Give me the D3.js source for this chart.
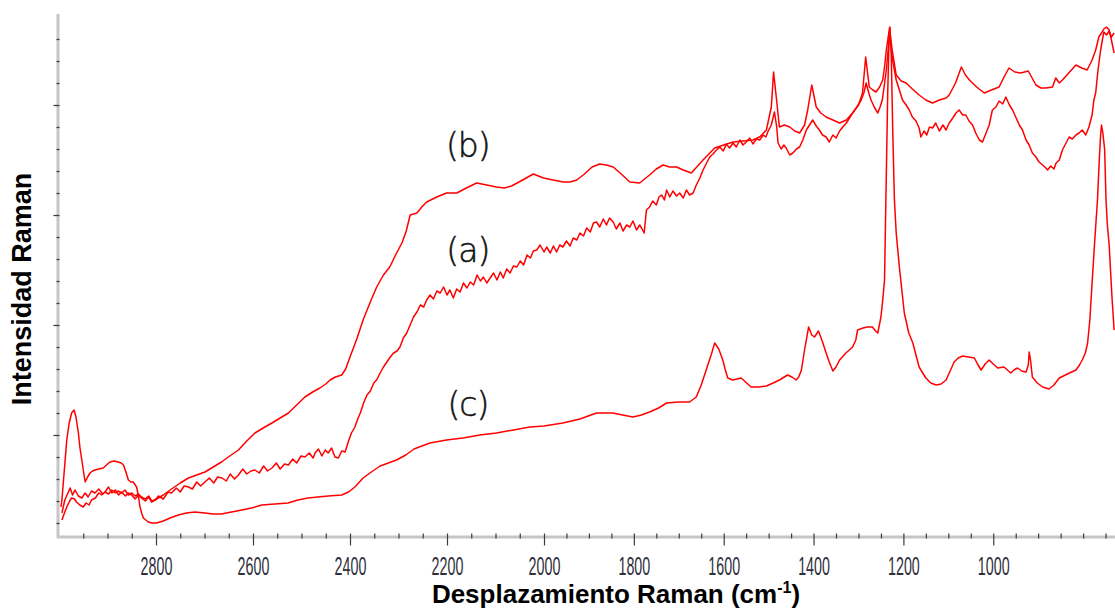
<!DOCTYPE html>
<html>
<head>
<meta charset="utf-8">
<script src="https://cdn.jsdelivr.net/npm/d3@7"></script>
<style>
  html, body { margin: 0; padding: 0; background: #fff; }
  svg { display: block; }
</style>
</head>
<body>
<svg id="chart" width="1115" height="611"></svg>
<script>
// Raman spectra: [Raman shift (cm-1), intensity (a.u.)]
const seriesA = [
  [2994,32],[2988,45],[2977,57],[2972,50],[2967,55],[2960,49],[2953,47],[2946,52],[2940,48],[2933,54],
  [2926,52],[2918,56],[2910,51],[2905,53],[2898,58],[2891,52],[2884,55],[2877,50],[2871,53],[2863,49],
  [2857,52],[2850,50],[2843,46],[2836,50],[2830,47],[2822,44],[2815,48],[2809,43],[2802,45],
  [2795,49],[2785,46],[2775,53],[2768,52],[2758,57],[2750,53],[2742,59],[2733,58],[2725,56],[2716,63],
  [2708,59],[2699,63],[2690,67],[2681,62],[2673,68],[2664,67],[2655,64],[2647,71],[2638,66],[2630,70],
  [2621,76],[2613,71],[2604,74],[2596,75],[2587,72],[2578,79],[2570,74],[2561,77],[2552,82],[2544,76],
  [2535,81],[2527,80],[2518,86],[2510,82],[2501,89],[2493,88],[2484,92],[2476,87],[2472,92],[2465,96],
  [2458,89],[2451,95],[2445,92],[2438,97],[2431,88],[2424,87],[2417,94],[2410,93],[2403,104],[2397,112],
  [2390,118],[2384,126],[2378,133],[2372,142],[2365,150],[2358,154],[2351,162],[2345,165],[2338,172],
  [2331,178],[2324,183],[2317,188],[2310,192],[2303,194],[2297,198],[2290,207],[2283,212],[2276,220],
  [2269,228],[2262,233],[2255,240],[2248,238],[2242,245],[2235,250],[2228,246],[2221,254],[2214,252],
  [2207,258],[2200,250],[2194,255],[2187,247],[2180,256],[2173,253],[2166,262],[2159,257],[2152,263],
  [2145,260],[2138,270],[2131,264],[2125,268],[2118,262],[2111,267],[2104,272],[2097,265],[2090,273],
  [2084,267],[2077,276],[2070,272],[2063,279],[2056,278],[2049,284],[2042,280],[2035,290],[2028,287],
  [2022,294],[2015,295],[2008,300],[2000,293],
  [1994,298],[1986,292],[1979,299],[1972,293],[1965,300],[1958,298],[1950,304],[1942,299],[1935,307],
  [1927,305],[1920,312],[1912,309],[1905,317],[1897,313],[1890,322],[1883,323],[1876,318],[1868,326],
  [1861,320],[1854,327],[1846,323],[1839,316],[1831,322],[1824,314],[1816,320],[1809,318],[1802,324],
  [1794,315],[1787,320],[1783,317],[1777,312],[1772,335],[1765,338],[1758,344],[1750,340],[1744,348],
  [1738,350],[1732,345],[1727,355],[1720,348],[1713,354],[1705,349],[1698,352],[1690,347],[1683,355],
  [1676,350],[1668,352],[1661,360],[1653,367],[1646,375],[1638,382],[1631,388],[1624,391],[1616,395],
  [1609,398],[1601,394],[1594,401],[1587,397],[1579,402],[1572,398],[1564,405],[1557,400],[1550,403],
  [1542,407],[1535,401],[1527,406],[1520,405],[1512,410],[1506,408],[1502,413],[1494,420],[1487,433],
  [1482,418],[1479,402],[1472,396],[1466,400],[1461,397],[1453,390],[1446,392],[1438,396],[1431,398],
  [1424,405],[1416,415],[1409,420],[1402,425],[1394,419],[1387,415],[1380,410],[1372,408],[1365,403],
  [1357,410],[1350,407],[1342,414],[1335,418],[1327,422],[1320,427],[1313,432],[1305,437],[1298,442],
  [1294,445],[1288,452],[1283,462],[1277,452],[1272,445],[1265,438],[1257,432],[1252,438],[1247,445],
  [1243,458],[1238,475],[1234,495],[1231,512],[1228,500],[1224,485],[1220,475],[1216,465],[1209,455],
  [1202,445],[1194,440],[1187,435],[1180,428],[1172,424],[1165,417],[1161,408],[1154,414],[1148,410],
  [1142,418],[1135,417],[1128,422],[1120,414],[1112,420],[1105,415],[1098,422],[1090,427],[1083,432],
  [1076,435],[1068,430],[1061,430],[1054,424],[1046,420],[1039,412],[1031,405],[1024,403],[1016,412],
  [1009,420],[1002,435],[994,438],[987,444],[979,441],[972,448],[964,440],[957,435],[950,428],[942,420],
  [935,415],[927,405],[920,400],[913,392],[905,388],[898,383],[890,380],[883,377],[879,375],[872,379],
  [865,376],[860,382],[853,385],[846,395],[838,402],[831,408],[824,406],[816,410],[809,412],[802,415],
  [794,410],[787,418],[780,430],[776,445],[772,452],[768,470],[764,485],[761,495],[757,505],[754,513],
  [748,510],[742,514],[737,508],[731,512]
];

const seriesB = [
  [2994,25],[2988,33],[2984,38],[2978,44],[2974,47],[2968,46],[2964,43],[2957,40],[2950,38],[2944,42],
  [2938,40],[2933,45],[2925,47],[2918,52],[2912,50],[2905,53],[2898,51],[2891,55],[2884,52],[2878,54],
  [2871,52],[2864,55],[2857,50],[2850,52],[2843,49],[2836,51],[2830,48],[2822,46],[2815,49],[2809,44],
  [2802,45],
  [2785,50],[2768,56],[2750,62],[2733,67],[2716,70],[2699,73],[2682,78],[2665,83],[2648,89],[2630,95],
  [2613,104],[2596,112],[2579,117],[2561,122],[2544,127],[2527,132],[2510,140],[2493,148],[2477,153],
  [2462,157],[2450,161],[2441,165],[2430,168],[2417,170],[2409,176],[2400,188],[2386,206],[2373,225],
  [2359,242],[2345,258],[2331,270],[2318,278],[2306,290],[2293,302],[2284,314],[2276,330],[2262,332],
  [2252,338],[2242,343],[2221,348],[2201,352],[2180,352],[2160,357],[2139,362],[2118,360],[2098,358],
  [2082,357],[2067,359],[2044,365],[2022,371],[2001,367],
  [1980,365],[1957,363],[1942,363],[1927,365],[1910,371],[1893,378],[1876,381],[1861,380],[1846,378],
  [1828,371],[1809,363],[1787,362],[1765,370],[1750,376],[1735,380],[1720,378],[1705,378],[1690,375],
  [1672,372],[1660,378],[1646,385],[1633,391],[1620,397],[1600,400],[1579,403],[1557,404],[1535,405],
  [1520,408],[1505,415],[1494,438],[1489,473],[1483,448],[1476,418],[1465,420],[1453,418],[1442,414],
  [1431,412],[1420,420],[1413,435],[1404,460],[1394,438],[1384,432],[1372,428],[1357,425],[1342,422],
  [1327,425],[1313,432],[1300,440],[1291,452],[1284,488],[1276,458],[1268,455],[1261,453],[1253,458],
  [1246,465],[1242,478],[1238,495],[1231,517],[1225,495],[1216,470],[1205,464],[1194,462],[1180,456],
  [1165,450],[1150,445],[1135,442],[1120,445],[1105,447],[1098,450],[1084,462],[1071,478],[1062,470],
  [1053,465],[1037,458],[1020,452],[1004,455],[987,458],[976,468],[965,477],[952,473],[939,472],
  [922,474],[905,460],[894,457],[883,457],[868,458],[861,467],[853,462],[846,465],[830,473],[816,480],
  [803,477],[791,475],[780,485],[772,495],[765,508],[759,512],[754,516],[748,518],[742,515],[737,505],
  [731,492]
];

const seriesC = [
  [2996,38],[2994,45],[2989,75],[2984,105],[2979,122],[2974,132],[2969,135],[2965,128],[2960,112],
  [2957,98],[2953,85],[2949,72],[2946,63],[2941,68],[2936,72],[2931,74],[2926,75],[2918,76],[2909,77],
  [2902,80],[2895,83],[2886,84],[2878,83],[2872,82],[2867,80],[2862,73],[2857,65],[2852,63],[2847,63],
  [2840,58],[2836,48],[2833,38],[2829,31],[2826,27],[2816,23],[2808,22],[2799,22],[2785,24],[2771,27],
  [2754,30],[2737,32],[2720,33],[2699,32],[2682,31],[2665,31],[2644,33],[2623,35],[2603,37],[2582,40],
  [2555,41],[2528,42],[2507,45],[2487,47],[2466,48],[2445,49],[2417,50],[2403,53],[2390,58],[2373,67],
  [2356,73],[2338,79],[2321,82],[2304,85],[2285,90],[2268,96],[2252,99],[2235,102],[2201,105],[2167,107],
  [2132,110],[2098,112],[2063,115],[2029,118],[2000,119],[1958,122],[1920,126],[1883,132],[1847,132],
  [1825,130],[1802,128],[1783,130],[1765,133],[1745,137],[1727,142],[1700,143],[1676,143],[1661,148],
  [1650,160],[1639,175],[1628,190],[1620,202],[1611,196],[1602,185],[1597,176],[1591,167],[1580,165],
  [1561,167],[1549,162],[1539,158],[1522,158],[1505,159],[1490,162],[1476,165],[1458,170],[1448,168],
  [1439,165],[1433,168],[1427,175],[1420,195],[1411,218],[1404,210],[1398,208],[1389,214],[1380,203],
  [1372,192],[1365,183],[1357,174],[1350,178],[1342,185],[1328,192],[1313,198],[1306,205],[1302,215],
  [1290,217],[1280,218],[1269,218],[1262,214],[1257,212],[1250,228],[1246,245],[1242,265],[1239,345],
  [1235,450],[1232,505],[1230,518],[1227,490],[1224,420],[1220,345],[1216,312],[1209,278],[1198,232],
  [1188,212],[1179,202],[1172,190],[1165,178],[1157,172],[1150,167],[1139,162],[1127,160],[1116,161],
  [1105,165],[1096,174],[1087,183],[1078,187],[1068,189],[1055,188],[1042,187],[1035,181],[1027,175],
  [1018,181],[1009,185],[1000,181],[990,177],[976,178],[961,172],[954,175],[946,177],[937,174],[927,173],
  [922,180],[920,193],[917,185],[913,168],[902,162],[890,158],[876,156],[865,160],[853,167],[835,171],
  [816,175],[808,180],[802,185],[795,192],[790,202],[785,225],[780,262],[774,305],[768,345],[764,385],
  [761,410],[759,420],[756,412],[752,395],[749,345],[746,320],[742,300],[736,250],[731,215]
];

const curveNames = ["(a)", "(b)", "(c)"];
const xTickLabels = [2800, 2600, 2400, 2200, 2000, 1800, 1600, 1400, 1200, 1000];
const xTitle = "Desplazamiento Raman (cm";
const yTitle = "Intensidad Raman";

const svg = d3.select("#chart");

// Raman shift runs right-to-left; the axis is drawn in two linear segments
const x = d3.scaleLinear().domain([3000, 2000, 729]).range([59, 544, 1115]);
const y = d3.scaleLinear().domain([8, 531]).range([537, 14]);

// axis bars
svg.append("line").attr("x1", 58).attr("x2", 58).attr("y1", 14).attr("y2", 538)
  .attr("stroke", "#c6c6c6").attr("stroke-width", 3);
svg.append("line").attr("x1", 57).attr("x2", 1115).attr("y1", 537).attr("y2", 537)
  .attr("stroke", "#c6c6c6").attr("stroke-width", 3);

// x ticks: minor every 50, major with labels every 200
const xMinor = d3.range(2950, 749, -50).filter(v => !xTickLabels.includes(v));
const gxMinor = svg.append("g").attr("transform", "translate(0,533.5)")
  .call(d3.axisBottom(x).tickValues(xMinor).tickSize(5).tickFormat(""));
const gxMajor = svg.append("g").attr("transform", "translate(0,533.5)")
  .call(d3.axisBottom(x).tickValues(xTickLabels).tickSize(12).tickFormat(d3.format("d")));
[gxMinor, gxMajor].forEach(g => {
  g.select(".domain").remove();
  g.selectAll(".tick line").attr("stroke", "#3c3c3c").attr("stroke-width", 1.2);
});
gxMajor.selectAll(".tick text")
  .attr("y", 42).attr("dy", 0)
  .attr("transform", "scale(0.55,1)")
  .attr("fill", "#30303c")
  .style("font-family", "'Liberation Sans', Arial, sans-serif")
  .style("font-size", "26px");

// y ticks (unlabelled): minor and major marks
const yMajor = [110, 220, 330, 440];
const yMinor = d3.range(22, 520, 22).filter(v => !yMajor.includes(v));
const gyMinor = svg.append("g").attr("transform", "translate(59.5,0)")
  .call(d3.axisLeft(y).tickValues(yMinor).tickSize(3).tickFormat(""));
const gyMajor = svg.append("g").attr("transform", "translate(59.5,0)")
  .call(d3.axisLeft(y).tickValues(yMajor).tickSize(6).tickFormat(""));
[gyMinor, gyMajor].forEach(g => {
  g.select(".domain").remove();
  g.selectAll(".tick line").attr("stroke", "#3c3c3c").attr("stroke-width", 1.3);
});

// spectra
svg.append("clipPath").attr("id", "plotClip")
  .append("rect").attr("x", 59).attr("y", 8).attr("width", 1060).attr("height", 529);

const line = d3.line().x(d => x(d[0])).y(d => y(d[1]));
svg.append("g").attr("clip-path", "url(#plotClip)")
  .selectAll("path")
  .data([seriesC, seriesB, seriesA])
  .join("path")
  .attr("d", line)
  .attr("fill", "none")
  .attr("stroke", "#ff0000")
  .attr("stroke-width", 1.5)
  .attr("stroke-linejoin", "round");

// curve labels
const labelAnchors = [[2157, 295], [2157, 400], [2157, 141]];
svg.selectAll("text.curve")
  .data(curveNames)
  .join("text")
  .attr("class", "curve")
  .attr("x", (d, i) => x(labelAnchors[i][0]))
  .attr("y", (d, i) => y(labelAnchors[i][1]))
  .attr("text-anchor", "middle")
  .attr("dominant-baseline", "central")
  .attr("fill", "#111")
  .attr("stroke", "#111")
  .attr("stroke-width", 0.5)
  .attr("letter-spacing", -1)
  .style("font-family", "'DejaVu Sans', sans-serif")
  .style("font-weight", 200)
  .style("font-size", "33px")
  .text(d => d);

// axis titles
const xt = svg.append("text")
  .attr("x", 616).attr("y", 603)
  .attr("text-anchor", "middle")
  .attr("fill", "#000")
  .style("font-family", "'Liberation Sans', Arial, sans-serif")
  .style("font-weight", "bold")
  .style("font-size", "26px");
xt.append("tspan").text(xTitle);
xt.append("tspan").attr("dy", -10).style("font-size", "16px").text("-1");
xt.append("tspan").attr("dy", 10).text(")");

svg.append("text")
  .attr("transform", "translate(31,289) rotate(-90)")
  .attr("text-anchor", "middle")
  .attr("fill", "#000")
  .style("font-family", "'Liberation Sans', Arial, sans-serif")
  .style("font-weight", "bold")
  .style("font-size", "27px")
  .text(yTitle);
</script>
</body>
</html>
